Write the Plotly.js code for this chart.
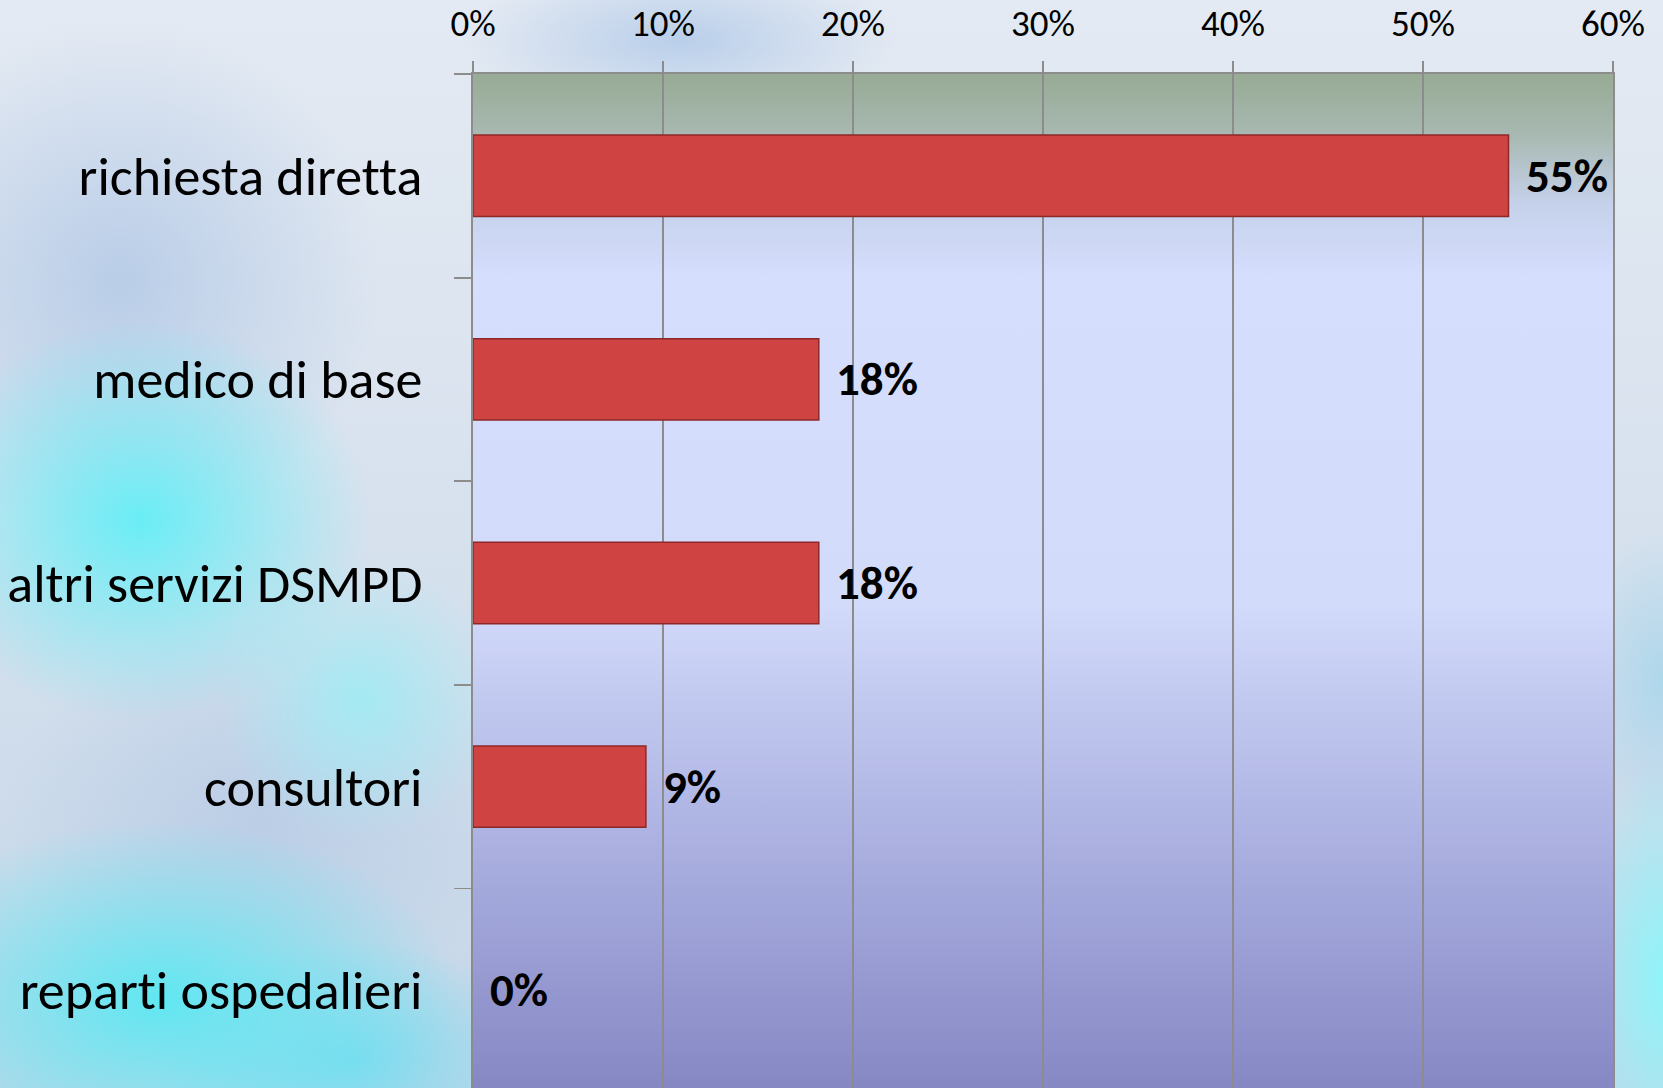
<!DOCTYPE html>
<html>
<head>
<meta charset="utf-8">
<script src="https://cdn.plot.ly/plotly-3.0.1.min.js"></script>
<style>
  html, body { margin: 0; padding: 0; width: 1663px; height: 1088px; overflow: hidden; }
  body {
    background:
      radial-gradient(ellipse 230px 200px at 140px 520px, rgba(100,238,246,0.95), rgba(100,238,246,0) 100%),
      radial-gradient(ellipse 300px 180px at 160px 1000px, rgba(90,232,242,0.95), rgba(90,232,242,0) 100%),
      radial-gradient(ellipse 140px 140px at 360px 700px, rgba(160,236,244,0.9), rgba(160,236,244,0) 100%),
      radial-gradient(ellipse 200px 120px at 350px 1060px, rgba(110,220,240,0.8), rgba(110,220,240,0) 100%),
      radial-gradient(ellipse 90px 220px at 1663px 980px, rgba(140,246,250,0.95), rgba(140,246,250,0) 100%),
      radial-gradient(ellipse 90px 150px at 1663px 680px, rgba(150,210,235,0.6), rgba(150,210,235,0) 100%),
      radial-gradient(ellipse 260px 260px at 120px 280px, rgba(170,195,228,0.7), rgba(170,195,228,0) 100%),
      radial-gradient(ellipse 220px 80px at 680px 40px, rgba(175,200,232,0.8), rgba(175,200,232,0) 100%),
      radial-gradient(ellipse 260px 200px at 260px 820px, rgba(180,200,228,0.7), rgba(180,200,228,0) 100%),
      linear-gradient(180deg, #e4eaf3 0%, #d8e2ee 45%, #c4d6e8 100%);
  }
  #chart { width: 1663px; height: 1092px; }
  #chart text { font-variant-ligatures: none; font-feature-settings: "liga" 0, "clig" 0; }
</style>
</head>
<body>
<div id="chart"></div>
<script>
// ---- data ----
const categories = ["richiesta diretta", "medico di base", "altri servizi DSMPD", "consultori", "reparti ospedalieri"];
const shares = [0.545, 0.182, 0.182, 0.091, 0.0];
const shareLabels = ["55%", "18%", "18%", "9%", "0%"];
const xTickVals = [0, 0.1, 0.2, 0.3, 0.4, 0.5, 0.6];
const xTickText = ["0%", "10%", "20%", "30%", "40%", "50%", "60%"];

// ---- styles ----
const FONT = "Carlito, Calibri, Lato, 'Open Sans', sans-serif";
const gridGray = "#8c8c8c";

const plotBgSvg =
  '<svg xmlns="http://www.w3.org/2000/svg" width="100" height="100" preserveAspectRatio="none" viewBox="0 0 100 100">' +
  '<defs><linearGradient id="g" x1="0" y1="0" x2="0" y2="1">' +
  '<stop offset="0" stop-color="#97ab95"/>' +
  '<stop offset="0.06" stop-color="#a8b9b2"/>' +
  '<stop offset="0.13" stop-color="#c6d2ec"/>' +
  '<stop offset="0.2" stop-color="#d5defd"/>' +
  '<stop offset="0.52" stop-color="#d3dbfb"/>' +
  '<stop offset="0.62" stop-color="#c1c8ef"/>' +
  '<stop offset="0.8" stop-color="#a4a9dc"/>' +
  '<stop offset="1" stop-color="#8587c3"/>' +
  '</linearGradient></defs><rect x="0" y="0" width="100" height="100" fill="url(#g)"/></svg>';

const trace = {
  type: "bar",
  orientation: "h",
  y: categories,
  x: shares,
  marker: {
    color: "#cf4343",
    line: { color: "#8e2828", width: shares.map(v => (v > 0 ? 1.5 : 0)) }
  },
  hoverinfo: "skip"
};

const annotations = categories.map((c, i) => ({
  x: shares[i], y: c, xref: "x", yref: "y",
  text: shareLabels[i], showarrow: false,
  xanchor: "left", yanchor: "middle", xshift: 15,
  font: { family: FONT, size: 47, color: "#000", weight: "bold" }
}));

const layout = {
  width: 1663, height: 1092,
  margin: { l: 473, r: 50, t: 74, b: 0, pad: 0 },
  paper_bgcolor: "rgba(0,0,0,0)",
  plot_bgcolor: "rgba(0,0,0,0)",
  showlegend: false,
  bargap: 0.6,
  xaxis: {
    side: "top", range: [0, 0.6],
    tickvals: xTickVals, ticktext: xTickText,
    showgrid: true, gridcolor: gridGray, gridwidth: 1.8,
    zeroline: false,
    showline: true, linecolor: gridGray, linewidth: 1.8, mirror: true,
    ticks: "outside", ticklen: 11, tickwidth: 1.8, tickcolor: gridGray,
    ticklabelstandoff: 10,
    tickfont: { family: FONT, size: 37, color: "#000" },
    fixedrange: true
  },
  yaxis: {
    type: "category", autorange: "reversed",
    categoryorder: "array", categoryarray: categories,
    showgrid: false, zeroline: false,
    showline: true, linecolor: gridGray, linewidth: 1.8, mirror: true,
    ticks: "outside", tickson: "boundaries", ticklen: 17, tickwidth: 1.8, tickcolor: gridGray,
    ticklabelstandoff: 38,
    tickfont: { family: FONT, size: 54, color: "#000" },
    fixedrange: true
  },
  images: [{
    source: "data:image/svg+xml;charset=utf-8," + encodeURIComponent(plotBgSvg),
    xref: "paper", yref: "paper", x: 0, y: 1, sizex: 1, sizey: 1,
    xanchor: "left", yanchor: "top", sizing: "stretch", layer: "below"
  }],
  annotations: annotations
};

Plotly.newPlot("chart", [trace], layout, { displayModeBar: false, staticPlot: true });
</script>
</body>
</html>
